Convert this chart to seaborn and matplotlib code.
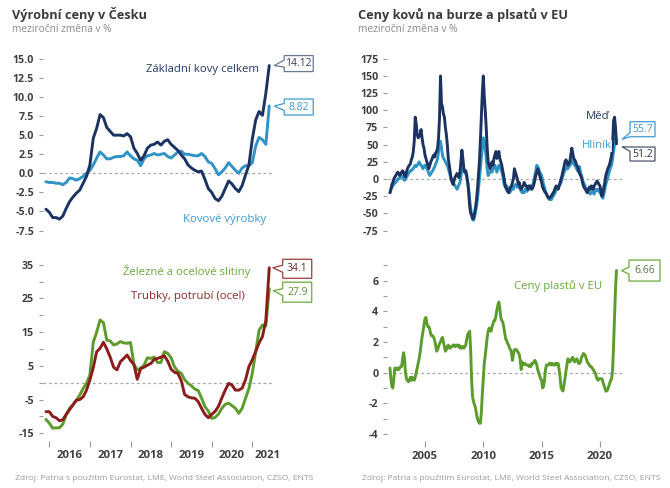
import numpy as np
import pandas as pd
import seaborn as sns
import matplotlib
matplotlib.use("Agg")
import matplotlib.pyplot as plt
from matplotlib.patches import Polygon
from matplotlib.transforms import ScaledTranslation

# ---------------------------------------------------------------
# data (y/y change in %)
# Czech producer prices, monthly Dec 2015 - Jun 2021
# ---------------------------------------------------------------
cz_start = "2015-12-01"
zakladni_kovy = [-4.7, -5.1, -5.8, -5.8, -6.0, -5.6, -4.6, -3.7, -3.1, -2.6,
                 -2.2, -1.3, -0.4, 1.1, 4.6, 5.9, 7.7, 7.3, 6.0, 5.5,
                 5.0, 5.0, 5.0, 4.9, 5.2, 4.8, 3.3, 2.6, 1.7, 2.3,
                 3.3, 3.7, 3.8, 4.1, 3.7, 4.2, 4.4, 3.8, 3.4, 3.0,
                 2.4, 1.9, 1.1, 0.7, 0.4, 0.2, 0.3, -0.8, -2.0, -2.5,
                 -3.3, -3.6, -3.0, -2.0, -1.0, -1.4, -2.0, -2.4, -1.6, -0.2,
                 1.1, 4.5, 7.0, 8.1, 7.6, 10.5, 14.12]
kovove_vyrobky = [-1.1, -1.2, -1.2, -1.3, -1.3, -1.5, -1.2, -0.6, -0.7, -0.9,
                  -0.7, -0.4, 0.0, 0.4, 1.1, 2.0, 2.8, 2.4, 1.9, 1.9,
                  2.1, 2.2, 2.2, 2.3, 2.8, 2.3, 1.9, 1.7, 1.0, 1.9,
                  2.3, 2.4, 2.6, 2.4, 2.5, 2.6, 2.2, 2.0, 2.4, 2.8,
                  2.9, 2.5, 2.5, 2.4, 2.3, 2.3, 2.6, 2.2, 1.5, 1.3,
                  0.6, -0.2, 0.2, 0.7, 1.4, 0.9, 0.4, 0.0, 0.7, 1.0,
                  1.0, 1.4, 3.6, 4.7, 4.4, 3.8, 8.82]
zelezne_slitiny = [-10.9, -12.0, -13.5, -13.4, -13.4, -12.3, -9.5, -7.6, -6.5, -5.2,
                   -3.7, -1.7, -0.2, 2.3, 12.0, 15.0, 18.6, 17.8, 12.6, 12.4,
                   11.2, 11.5, 12.2, 11.8, 11.7, 11.9, 5.5, 3.8, 4.3, 5.2,
                   7.4, 7.2, 7.6, 6.0, 6.0, 9.2, 8.7, 7.4, 4.7, 3.4,
                   2.8, 0.9, -0.2, -0.9, -1.9, -2.3, -4.6, -7.1, -8.4, -10.6,
                   -10.3, -9.3, -7.6, -6.4, -6.1, -6.8, -7.6, -9.1, -7.6, -4.6,
                   -1.7, 2.8, 9.2, 15.6, 17.1, 16.8, 27.9]
trubky = [-8.6, -8.6, -10.0, -10.4, -11.3, -11.0, -9.4, -8.0, -6.6, -5.2,
          -5.0, -4.2, -2.2, 0.8, 4.5, 9.2, 10.2, 12.0, 10.0, 7.6,
          4.6, 3.8, 6.2, 7.2, 8.2, 6.6, 5.4, 1.0, 4.2, 4.6,
          5.2, 5.7, 6.9, 7.2, 7.6, 8.0, 6.4, 4.0, 3.1, 2.8,
          0.6, -3.5, -4.2, -4.5, -4.6, -5.6, -7.6, -9.4, -10.4, -9.4,
          -8.5, -7.0, -4.5, -2.2, -0.2, -0.7, -2.2, -2.2, -1.6, 0.9,
          4.8, 6.8, 9.3, 11.8, 13.7, 18.5, 34.1]

# exchange metals (LME) and EU plastics, monthly Jan 2002 - Jun 2021
eu_start = "2002-01-01"
med = [-20, -15, -8, -5, 0, 3, 5, 8, 10, 8, 5, 8,
       10, 12, 10, 5, 3, 10, 15, 18, 20, 22, 28, 32,
       40, 55, 90, 80, 65, 60, 62, 65, 72, 60, 50, 45,
       35, 30, 25, 20, 15, 20, 25, 28, 32, 35, 32, 38,
       40, 45, 60, 90, 150, 110, 105, 95, 90, 75, 65, 50,
       30, 20, 10, 0, -5, -8, -2, 3, 5, 8, 5, 2,
       10, 25, 42, 30, 15, 10, 12, 5, -5, -20, -40, -50,
       -52, -58, -57, -50, -42, -30, -15, 5, 25, 55, 90, 125,
       150, 120, 100, 75, 45, 25, 20, 15, 20, 25, 20, 30,
       35, 40, 30, 35, 40, 30, 25, 20, 12, 5, -5, -12,
       -15, -18, -20, -15, -12, -10, -5, 0, 15, 10, 5, 0,
       -8, -5, -12, -15, -12, -10, -5, -8, -10, -12, -15, -10,
       -10, -12, -15, -12, -8, -2, 5, 10, 15, 10, 5, 0,
       -5, -12, -15, -18, -20, -22, -25, -27, -28, -26, -25, -22,
       -20, -17, -13, -10, -12, -15, -10, -5, 0, 5, 12, 18,
       25, 28, 25, 20, 22, 25, 35, 45, 38, 30, 28, 25,
       20, 18, 12, 8, 5, 2, -5, -10, -13, -15, -18, -20,
       -15, -12, -15, -10, -12, -15, -10, -8, -5, -3, -5, -8,
       -10, -18, -25, -20, -12, -5, 5, 10, 15, 18, 22, 28,
       35, 50, 85, 90, 75, 51.2]
hlinik = [-20, -15, -12, -10, -8, -5, -5, -3, 0, 0, 2, 3,
          5, 3, 0, -2, 0, 3, 5, 8, 10, 12, 12, 14,
          15, 18, 20, 18, 20, 22, 25, 22, 20, 18, 15, 18,
          20, 18, 15, 12, 8, 5, 8, 10, 12, 15, 18, 22,
          25, 30, 40, 50, 55, 45, 35, 30, 28, 25, 22, 20,
          15, 10, 5, 0, -3, -5, -8, -10, -12, -15, -12, -8,
          -5, 5, 12, 15, 12, 10, 8, 2, -5, -15, -30, -42,
          -52, -58, -60, -55, -48, -40, -30, -15, 0, 15, 30, 45,
          60, 55, 45, 30, 15, 5, 8, 10, 12, 10, 15, 18,
          20, 15, 10, 15, 20, 18, 15, 10, 5, -5, -10, -12,
          -10, -12, -15, -20, -18, -15, -12, -15, -10, -8, -10, -12,
          -10, -12, -15, -18, -20, -18, -20, -15, -15, -18, -15, -15,
          -15, -12, -10, -8, -2, 5, 12, 20, 18, 15, 10, 8,
          5, -2, -8, -12, -18, -22, -25, -28, -30, -28, -30, -27,
          -25, -22, -20, -15, -14, -12, -10, -8, -5, 0, 5, 10,
          12, 15, 18, 15, 18, 20, 22, 25, 28, 22, 20, 18,
          15, 12, 15, 18, 10, 5, 0, -5, -8, -12, -15, -18,
          -18, -20, -22, -20, -18, -20, -22, -18, -15, -17, -15, -18,
          -20, -22, -25, -28, -22, -15, -8, -3, 2, 8, 12, 18,
          20, 30, 40, 50, 60, 55.7]
plasty = [0.3, -0.4, -0.9, -1.0, -0.4, 0.3, 0.3, 0.2, 0.3, 0.2, 0.3, 0.4,
          0.4, 0.9, 1.3, 0.9, 0.0, -0.4, -0.5, -0.6, -0.5, -0.3, -0.5, -0.3,
          -0.4, -0.5, -0.3, 0.0, 0.3, 0.6, 0.9, 1.3, 1.8, 2.3, 2.7, 3.1,
          3.5, 3.6, 3.2, 3.0, 3.0, 2.8, 2.5, 2.4, 2.4, 2.3, 2.1, 1.8,
          1.4, 1.5, 1.7, 1.9, 2.0, 2.2, 2.3, 2.0, 1.7, 1.4, 1.5, 1.7,
          1.8, 1.6, 1.6, 1.7, 1.7, 1.8, 1.8, 1.7, 1.8, 1.8, 1.7, 1.8,
          1.6, 1.7, 1.6, 1.7, 1.6, 1.7, 1.8, 2.2, 2.5, 2.6, 2.7, 1.5,
          -0.5, -1.6, -1.9, -2.1, -2.3, -2.7, -3.0, -3.2, -3.3, -3.3, -2.6, -1.4,
          -0.4, 0.6, 1.1, 1.7, 2.3, 2.7, 2.9, 2.8, 2.7, 3.0, 3.2, 3.4,
          3.4, 3.7, 4.1, 4.4, 4.6, 4.2, 3.6, 3.4, 3.3, 3.0, 2.6, 2.2,
          2.1, 1.9, 1.8, 1.6, 1.5, 1.3, 0.8, 1.2, 1.5, 1.5, 1.5, 1.4,
          1.3, 1.2, 0.8, 0.2, 0.7, 0.5, 0.6, 0.6, 0.5, 0.5, 0.5, 0.4,
          0.5, 0.4, 0.6, 0.6, 0.7, 0.8, 0.7, 0.5, 0.2, 0.0, -0.2, -0.4,
          -0.5, -1.0, -0.9, -0.5, 0.2, 0.5, 0.5, 0.5, 0.6, 0.6, 0.5, 0.6,
          0.5, 0.5, 0.6, 0.5, 0.6, 0.6, 0.2, -0.3, -1.0, -1.1, -1.2, -0.8,
          -0.4, 0.1, 0.5, 0.9, 0.8, 0.7, 0.8, 0.9, 1.0, 0.8, 0.7, 0.8,
          0.9, 0.8, 0.6, 0.6, 0.7, 1.0, 1.1, 1.25, 1.2, 1.1, 0.9, 0.7,
          0.6, 0.5, 0.4, 0.4, 0.3, 0.2, 0.1, 0.0, -0.2, -0.4, -0.5, -0.4,
          -0.4, -0.4, -0.4, -0.6, -0.8, -1.0, -1.2, -1.2, -1.1, -0.9, -0.7, -0.5,
          -0.4, 0.2, 1.8, 3.6, 5.5, 6.66]

roky_cz = ["2016", "2017", "2018", "2019", "2020", "2021"]
roky_eu = ["2005", "2010", "2015", "2020"]

# ---------------------------------------------------------------
sns.set_style("white")
plt.rcParams["font.family"] = ["Open Sans", "DejaVu Sans"]
plt.rcParams["axes.unicode_minus"] = False

NAVY = "#1c3361"
LIGHT = "#2f93c6"
GREEN = "#5c9c2c"
RED = "#8c1c1c"
TICK_TXT = "#404040"
TICK_MARK = "#9a9a9a"

W, H = 670, 488
fig = plt.figure(figsize=(W / 100, H / 100), dpi=100)


def dec_years(start, n):
    d = pd.date_range(start, periods=n, freq="MS")
    return np.asarray(d.year + (d.month - 1) / 12.0)


def px_axes(l, t, r, b):
    ax = fig.add_axes([l / W, 1 - b / H, (r - l) / W, (b - t) / H])
    ax.set_facecolor("none")
    for s in ax.spines.values():
        s.set_visible(False)
    return ax


def style_y(ax, ticks, labels):
    ax.set_yticks(ticks)
    ax.set_yticklabels(labels, fontweight="bold", fontsize=7.7, color=TICK_TXT)
    ax.tick_params(axis="y", direction="out", length=2.6, width=0.8,
                   color=TICK_MARK, pad=4, left=True)


def zero_line(ax, x_end):
    ax.hlines(0, ax.get_xlim()[0], x_end, colors="#a8a8a8",
              linestyles=(0, (2.2, 2.2)), linewidth=0.9, zorder=1)


def callout(ax, x, y, label, edge, fg, dy=0, h=16, w=29, tip=(5, 0),
            base=None, left=15):
    # value box with a small pointer to the end of the line (sizes in px)
    trans = fig.dpi_scale_trans + ScaledTranslation(x, y, ax.transData)
    top, bot = dy + h / 2, dy - h / 2
    if base is None:
        base = (dy - 3.5, dy + 3.5)
    pts = [tip, (left, base[1]), (left, top), (left + w, top),
           (left + w, bot), (left, bot), (left, base[0])]
    poly = Polygon(np.array(pts) / 100.0, closed=True, transform=trans,
                   facecolor="white", edgecolor=edge, linewidth=0.9,
                   zorder=6, clip_on=False)
    ax.add_artist(poly)
    ax.text((left + w / 2) / 100.0, dy / 100.0, label, transform=trans,
            ha="center", va="center", color=fg, fontsize=7.5, zorder=7,
            clip_on=False)


x_cz = dec_years(cz_start, len(zakladni_kovy))
x_eu = dec_years(eu_start, len(med))

# ---------------- top left ----------------
ax1 = px_axes(43.2, 50, 284.8, 236.5)
sns.lineplot(x=x_cz, y=kovove_vyrobky, ax=ax1, color=LIGHT, linewidth=2.1, legend=False)
sns.lineplot(x=x_cz, y=zakladni_kovy, ax=ax1, color=NAVY, linewidth=2.1, legend=False)
ax1.set_xlim(2015.85, 2021.8)
ax1.set_ylim(-8.28, 16.16)
zero_line(ax1, x_cz[-1] + 0.1)
t1 = np.arange(-7.5, 15.1, 2.5)
style_y(ax1, t1, [f"{v:.1f}" for v in t1])
ax1.set_xticks([])
ax1.set(xlabel="", ylabel="")
ax1.text(2021.165, 13.67, "Základní kovy celkem", color="#253a66", fontsize=8.2,
         ha="right", va="center")
ax1.text(2021.34, -6.0, "Kovové výrobky", color="#3d9bd1", fontsize=8.2,
         ha="right", va="center")
callout(ax1, x_cz[-1], zakladni_kovy[-1], "14.12", "#6a7894", "#3a3f4c", dy=2, h=16)
callout(ax1, x_cz[-1], kovove_vyrobky[-1], "8.82", "#3d9bd1", "#3d9bd1", dy=-1, h=16)

# ---------------- bottom left ----------------
ax2 = px_axes(43.2, 258, 284.8, 441)
sns.lineplot(x=x_cz, y=zelezne_slitiny, ax=ax2, color=GREEN, linewidth=2.1, legend=False)
sns.lineplot(x=x_cz, y=trubky, ax=ax2, color=RED, linewidth=2.1, legend=False)
ax2.set_xlim(2015.85, 2021.8)
ax2.set_ylim(-17.3, 37.0)
zero_line(ax2, x_cz[-1] + 0.1)
t2 = np.arange(-15, 36, 5)
style_y(ax2, t2, [str(v) if v % 10 != 0 else "" for v in t2])
ax2.set_xticks(np.arange(2016, 2022), minor=True)
ax2.set_xticks([2016.5, 2017.5, 2018.5, 2019.5, 2020.5, 2021.38])
ax2.set_xticklabels(roky_cz, fontweight="bold", fontsize=8.2, color=TICK_TXT)
ax2.tick_params(axis="x", which="major", length=0, pad=6.5, bottom=True)
ax2.tick_params(axis="x", which="minor", length=4, width=0.8, color=TICK_MARK,
                direction="out", bottom=True)
ax2.set(xlabel="", ylabel="")
ax2.text(2020.94, 33.06, "Železné a ocelové slitiny", color="#6aaa3a", fontsize=8.2,
         ha="right", va="center")
ax2.text(2020.82, 25.64, "Trubky, potrubí (ocel)", color="#8c2a2a", fontsize=8.2,
         ha="right", va="center")
callout(ax2, x_cz[-1], trubky[-1], "34.1", "#9b3a3a", "#6b2a2a", dy=-1, h=19,
        tip=(3.5, 0), left=13.5)
callout(ax2, x_cz[-1], zelezne_slitiny[-1], "27.9", "#6aaa3a", "#5a8f35", dy=-3.5,
        h=20, tip=(4, -2), left=13.5)

# ---------------- top right ----------------
ax3 = px_axes(387.5, 50, 640.8, 236.5)
sns.lineplot(x=x_eu, y=hlinik, ax=ax3, color=LIGHT, linewidth=2.1, legend=False)
sns.lineplot(x=x_eu, y=med, ax=ax3, color=NAVY, linewidth=2.1, legend=False)
ax3.set_xlim(2001.79, 2023.5)
ax3.set_ylim(-83.7, 187.8)
zero_line(ax3, x_eu[-1] + 0.5)
t3 = np.arange(-75, 176, 25)
style_y(ax3, t3, [str(v) for v in t3])
ax3.set_xticks([])
ax3.set(xlabel="", ylabel="")
ax3.text(2020.85, 90.7, "Měď", color="#253a66", fontsize=8.2, ha="right",
         va="center", zorder=4,
         bbox=dict(facecolor="white", edgecolor="none", pad=0.4))
ax3.text(2021.02, 48.5, "Hliník", color="#3d9bd1", fontsize=8.2, ha="right",
         va="center", zorder=4,
         bbox=dict(facecolor="white", edgecolor="none", alpha=0.85, pad=0.4))
callout(ax3, x_eu[-1], hlinik[-1], "55.7", "#3d9bd1", "#3d9bd1", dy=11.5, h=15,
        w=25, tip=(5.5, 1.4), base=(4, 8), left=13.5)
callout(ax3, x_eu[-1], med[-1], "51.2", "#4a5570", "#333333", dy=-10.2, h=14,
        w=25, tip=(5.5, -2.9), base=(-7.5, -3.2), left=13.5)

# ---------------- bottom right ----------------
ax4 = px_axes(387.5, 258, 640.8, 441)
sns.lineplot(x=x_eu, y=plasty, ax=ax4, color=GREEN, linewidth=2.1, legend=False)
ax4.set_xlim(2001.79, 2023.5)
ax4.set_ylim(-4.46, 7.48)
zero_line(ax4, x_eu[-1] + 0.5)
t4 = np.arange(-4, 8, 1)
style_y(ax4, t4, [str(v) if v % 2 == 0 else "" for v in t4])
ax4.set_xticks([2005, 2010, 2015, 2020])
ax4.set_xticklabels(roky_eu, fontweight="bold", fontsize=8.2, color=TICK_TXT)
ax4.tick_params(axis="x", which="major", length=4, width=0.8, color=TICK_MARK,
                direction="out", pad=3.5, bottom=True)
ax4.set(xlabel="", ylabel="")
ax4.text(2020.17, 5.68, "Ceny plastů v EU", color="#6aaa3a", fontsize=8.2,
         ha="right", va="center")
callout(ax4, x_eu[-1], plasty[-1], "6.66", "#6aaa3a", "#5a7a4a", dy=0, h=21,
        w=31, tip=(5, 0), left=12.5)

# ---------------- titles & source ----------------
for x0, title in [(12, "Výrobní ceny v Česku"),
                  (358, "Ceny kovů na burze a plsatů v EU")]:
    fig.text(x0 / W, 1 - 18.5 / H, title, fontsize=9.2, fontweight="bold",
             color="#3b3b3b", va="baseline")
    fig.text(x0 / W, 1 - 31.5 / H, "meziroční změna v %", fontsize=7.3,
             color="#8a8a8a", va="baseline")

# the source line is cut short in the original, both panels
src = "Zdroj: Patria s použitím Eurostat, LME, World Steel Association, CZSO, ENTS"
for x0 in (15, 362):
    fig.text(x0 / W, 1 - 480 / H, src, fontsize=6.1, color="#9a9a9a",
             va="baseline")

fig.savefig("out.png", dpi=100)
